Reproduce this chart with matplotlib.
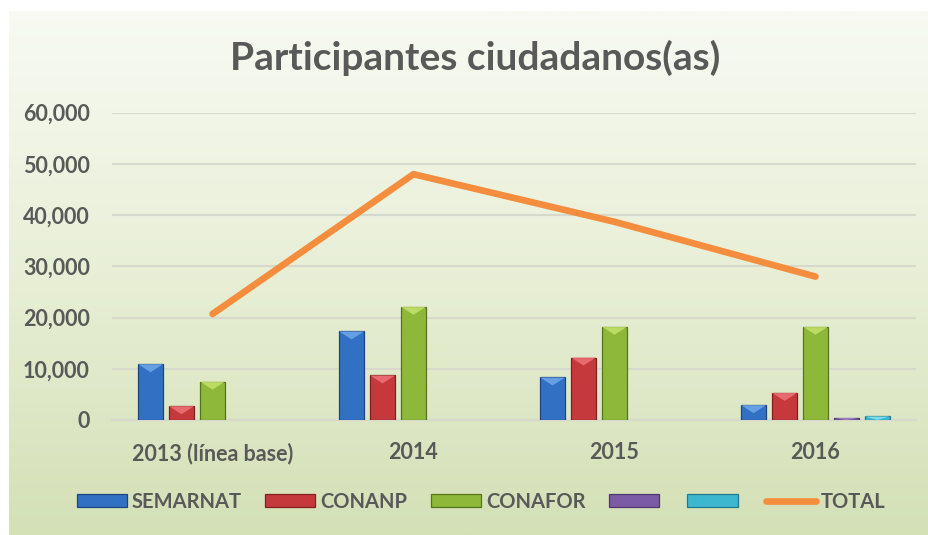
import numpy as np
import matplotlib
matplotlib.use("Agg")
import matplotlib.pyplot as plt
from matplotlib.colors import LinearSegmentedColormap
from matplotlib.patches import Patch, Polygon
from matplotlib.lines import Line2D

years = ["2013 (línea base)", "2014", "2015", "2016"]
semarnat = [10900, 17300, 8300, 2900]
conanp = [2700, 8700, 12200, 5300]
conafor = [7500, 22100, 18200, 18200]
otro1 = [0, 0, 0, 400]
otro2 = [0, 0, 0, 700]
total = [20700, 48000, 38700, 28000]

series = [semarnat, conanp, conafor, otro1, otro2]
labels = ["SEMARNAT", "CONANP", "CONAFOR", "", ""]
colors = ["#3270c4", "#c5393d", "#8db83a", "#7b5ba3", "#3db6cf"]
edges = ["#1d4580", "#82201f", "#56731d", "#4e3870", "#237a8c"]
lights = ["#6fa8ea", "#ee7477", "#c4e26c", "#a98bd0", "#86e4f4"]

txt = "#595959"
font = "Lato"

fig = plt.figure(figsize=(9.29, 5.35), dpi=100)

# gradient background of the chart area
bg = fig.add_axes([9 / 929, 0, 1 - 9 / 929, (535 - 11) / 535], zorder=-10)
cmap = LinearSegmentedColormap.from_list("bg", ["#f8faf3", "#e8efd6", "#d4e0b6"])
bg.imshow(np.linspace(0, 1, 256).reshape(-1, 1), aspect="auto", cmap=cmap,
          extent=[0, 1, 0, 1], origin="upper")
bg.axis("off")

ax = fig.add_axes([112 / 929, 115 / 535, (916 - 112) / 929, (420 - 112.7) / 535])
ax.patch.set_alpha(0)
ax.set_xlim(-0.5, 3.5)
ax.set_ylim(0, 60000)

x = np.arange(len(years))
step = 0.154
width = 0.124
# height of the bevel triangle: about 8 px in data units
bevel = 8 / (ax.get_position().height * fig.bbox.height) * 60000

handles = []
for i, (vals, c, ec, lc) in enumerate(zip(series, colors, edges, lights)):
    bars = ax.bar(x + (i - 2) * step, vals, width, color=c, edgecolor=ec, linewidth=0.9, zorder=3)
    for b in bars:
        h = b.get_height()
        if h <= 0:
            b.set_visible(False)
            continue
        x0, w = b.get_x(), b.get_width()
        d = min(bevel, h)
        tri = Polygon([[x0, h], [x0 + w, h], [x0 + w / 2, h - d]], closed=True,
                      facecolor=lc, edgecolor="none", alpha=0.85, zorder=3.5)
        ax.add_patch(tri)
    handles.append(Patch(facecolor=c, edgecolor=ec, linewidth=0.9))

ax.plot(x, total, color="#f58d3e", linewidth=4.8, solid_capstyle="round", zorder=4)
handles.append(Line2D([], [], color="#f58d3e", linewidth=4.8, solid_capstyle="round"))

ax.set_yticks(range(0, 60001, 10000))
ax.set_yticklabels([f"{v:,}" for v in range(0, 60001, 10000)])
ax.set_xticks(x)
ax.set_xticklabels(years)
ax.grid(axis="y", color="#d6d9cc", linewidth=1.5, zorder=0)
ax.tick_params(length=0)
ax.tick_params(axis="y", pad=16)
ax.tick_params(axis="x", pad=16)
for s in ["top", "right", "left"]:
    ax.spines[s].set_visible(False)
ax.spines["bottom"].set_color("#d6d9cc")
ax.spines["bottom"].set_linewidth(1.5)
for lab in ax.get_xticklabels() + ax.get_yticklabels():
    lab.set_fontfamily(font)
    lab.set_fontweight("bold")
    lab.set_fontsize(15.5)
    lab.set_color(txt)

fig.text(0.512, (535 - 70) / 535, "Participantes ciudadanos(as)", ha="center", va="baseline",
         fontsize=28, fontweight="bold", color=txt, family=font)

leg = fig.legend(handles, labels + ["TOTAL"], loc="center", bbox_to_anchor=(0.518, 0.062),
                 ncol=6, frameon=False, handlelength=2.5, handleheight=0.65,
                 handletextpad=0.25, columnspacing=1.15,
                 prop={"family": font, "weight": "bold", "size": 14.5})
for t in leg.get_texts():
    t.set_color(txt)

fig.savefig("out.png", dpi=100)
